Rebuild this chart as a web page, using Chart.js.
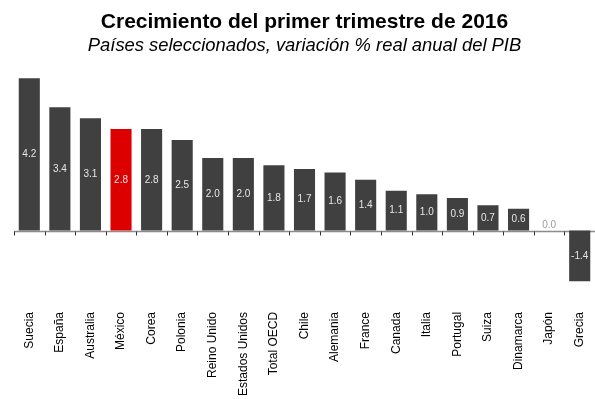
<!DOCTYPE html>
<html>
<head>
<meta charset="utf-8">
<script src="https://cdn.jsdelivr.net/npm/chart.js@4/dist/chart.umd.min.js"></script>
<style>
  html, body { margin: 0; padding: 0; background: #fff; }
  #wrap { width: 595px; height: 399px; }
</style>
</head>
<body>
<div id="wrap"><canvas id="pib"></canvas></div>
<script>
// PIB, variación % real anual, primer trimestre 2016
const paises = ['Suecia', 'España', 'Australia', 'México', 'Corea', 'Polonia', 'Reino Unido',
  'Estados Unidos', 'Total OECD', 'Chile', 'Alemania', 'France', 'Canada', 'Italia',
  'Portugal', 'Suiza', 'Dinamarca', 'Japón', 'Grecia'];
const variacion = [4.2, 3.4, 3.1, 2.8, 2.8, 2.5, 2.0, 2.0, 1.8, 1.7, 1.6, 1.4, 1.1, 1.0,
  0.9, 0.7, 0.6, 0.0, -1.4];
const destacado = 'México';

const GRIS = '#404040';
const ROJO = '#dc0000';
const FUENTE = '"Liberation Sans", Arial, sans-serif';

// línea del cero con marcas entre categorías
const lineaCero = {
  id: 'lineaCero',
  beforeDatasetsDraw(chart) {
    const ctx = chart.ctx;
    const x = chart.scales.x;
    const y0 = Math.round(chart.scales.y.getPixelForValue(0)) + 0.5;
    const paso = x.getPixelForValue(1) - x.getPixelForValue(0);
    ctx.save();
    ctx.strokeStyle = '#8c8c8c';
    ctx.lineWidth = 1.5;
    ctx.beginPath();
    ctx.moveTo(chart.chartArea.left, y0);
    ctx.lineTo(chart.chartArea.right, y0);
    ctx.stroke();
    ctx.strokeStyle = '#333';
    ctx.lineWidth = 1;
    ctx.beginPath();
    for (let i = 0; i <= paises.length; i++) {
      const px = Math.round(x.getPixelForValue(0) - paso / 2 + i * paso) + 0.5;
      ctx.moveTo(px, y0);
      ctx.lineTo(px, y0 + 4);
    }
    ctx.stroke();
    ctx.restore();
  }
};

// etiquetas de valor centradas dentro de cada barra
const etiquetasValor = {
  id: 'etiquetasValor',
  afterDatasetsDraw(chart) {
    const ctx = chart.ctx;
    const meta = chart.getDatasetMeta(0);
    ctx.save();
    ctx.font = '10px ' + FUENTE;
    ctx.textAlign = 'center';
    ctx.textBaseline = 'middle';
    meta.data.forEach((bar, i) => {
      const v = variacion[i];
      if (v === 0) {
        ctx.fillStyle = '#9a9a9a';
        ctx.fillText(v.toFixed(1), bar.x, bar.base - 5);
      } else {
        ctx.fillStyle = '#e6e6e6';
        ctx.fillText(v.toFixed(1), bar.x, (bar.y + bar.base) / 2);
      }
    });
    ctx.restore();
  }
};

new Chart(document.getElementById('pib'), {
  type: 'bar',
  data: {
    labels: paises,
    datasets: [{
      data: variacion,
      backgroundColor: paises.map(p => p === destacado ? ROJO : GRIS),
      barPercentage: 0.69,
      categoryPercentage: 1.0
    }]
  },
  options: {
    responsive: true,
    maintainAspectRatio: false,
    animation: false,
    layout: { padding: { left: 14, right: 0, top: 0, bottom: -19 } },
    plugins: {
      legend: { display: false },
      tooltip: { enabled: false },
      title: {
        display: true,
        text: 'Crecimiento del primer trimestre de 2016',
        color: '#000',
        font: { family: FUENTE, size: 21, weight: 'bold' },
        padding: { top: 10, bottom: 0 }
      },
      subtitle: {
        display: true,
        text: 'Países seleccionados, variación % real anual del PIB',
        color: '#000',
        font: { family: FUENTE, size: 18.4, style: 'italic' },
        padding: { top: 0, bottom: 12 }
      }
    },
    scales: {
      x: {
        border: { display: false },
        grid: { display: false, drawTicks: false },
        ticks: {
          autoSkip: false,
          maxRotation: 90,
          minRotation: 90,
          padding: 22,
          color: '#000',
          font: { family: FUENTE, size: 12 }
        },
        // las etiquetas giradas no deben recortar el área de las barras
        afterFit(scale) {
          scale.paddingLeft = 0;
          scale.paddingRight = 0;
        }
      },
      y: {
        display: false,
        min: -1.64,
        max: 4.45
      }
    }
  },
  plugins: [lineaCero, etiquetasValor]
});
</script>
</body>
</html>
